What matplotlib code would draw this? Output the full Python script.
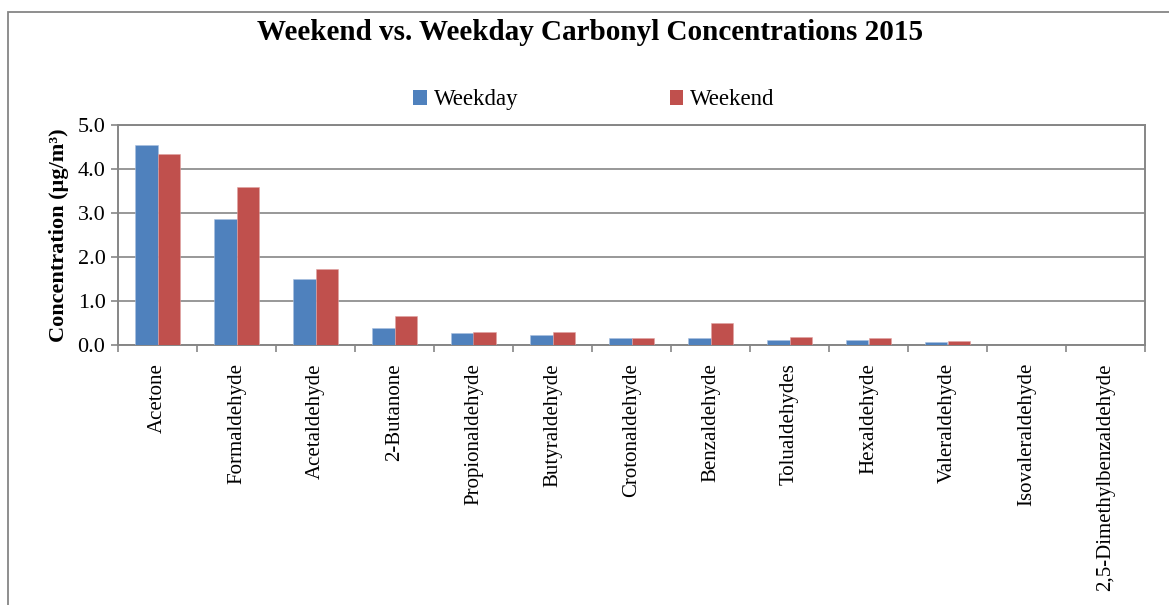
import matplotlib
matplotlib.use("Agg")
import matplotlib.pyplot as plt
from matplotlib.patches import Rectangle, Patch
import numpy as np

plt.rcParams["font.family"] = ["Liberation Serif", "DejaVu Serif"]

# data
compounds = ["Acetone", "Formaldehyde", "Acetaldehyde", "2-Butanone",
             "Propionaldehyde", "Butyraldehyde", "Crotonaldehyde",
             "Benzaldehyde", "Tolualdehydes", "Hexaldehyde",
             "Valeraldehyde", "Isovaleraldehyde", "2,5-Dimethylbenzaldehyde"]
weekday = [4.55, 2.86, 1.51, 0.39, 0.27, 0.22, 0.16, 0.16, 0.11, 0.12, 0.06, 0.0, 0.0]
weekend = [4.33, 3.58, 1.72, 0.65, 0.29, 0.29, 0.16, 0.49, 0.18, 0.16, 0.09, 0.0, 0.0]

blue = "#4F81BD"
red = "#C0504D"
grey = "#868686"

W, H = 1169, 605
fig = plt.figure(figsize=(W / 100, H / 100), dpi=100)

# outer chart frame (only top & left show in the crop)
fig.patches.append(Rectangle((8 / W, -0.1), 1.2, 1 - 12 / H + 0.1,
                             transform=fig.transFigure, fill=False,
                             edgecolor=grey, lw=1.3, clip_on=False))

ax = fig.add_axes([118 / W, 1 - 345 / H, (1145 - 118) / W, (345 - 125) / H])

x = np.arange(len(compounds))
bw = 0.28
ax.bar(x - bw / 2, weekday, bw, color=blue, edgecolor="#A9C0E0", lw=0.4, zorder=3)
ax.bar(x + bw / 2, weekend, bw, color=red, edgecolor="#E0A3A2", lw=0.4, zorder=3)

ax.set_xlim(-0.5, len(compounds) - 0.5)
ax.set_ylim(0, 5)
ax.set_yticks(np.arange(0, 5.01, 1.0))
ax.set_yticklabels(["%.1f" % v for v in np.arange(0, 5.01, 1.0)], fontsize=16)
ax.yaxis.grid(True, color=grey, lw=1.2, zorder=0)

ax.set_xticks(x)
ax.set_xticklabels(compounds, rotation=90, fontsize=15, va="top")
ax.tick_params(axis="x", which="major", length=0, pad=13)
ax.set_xticks(np.arange(-0.5, len(compounds)), minor=True)
ax.tick_params(axis="x", which="minor", length=5, width=1.2, color=grey)
ax.tick_params(axis="y", length=5, width=1.2, color=grey, pad=4)

for s in ax.spines.values():
    s.set_color(grey)
    s.set_linewidth(1.4)

ax.set_ylabel("Concentration (µg/m³)", fontsize=16, fontweight="bold", labelpad=6)

fig.text(0.505, 1 - 32 / H, "Weekend vs. Weekday Carbonyl Concentrations 2015",
         ha="center", va="center", fontsize=21, fontweight="bold")

handles = [Patch(facecolor=blue), Patch(facecolor=red)]
fig.legend(handles, ["Weekday", "Weekend"], loc="center",
           bbox_to_anchor=(0.508, 1 - 100 / H), ncol=2, frameon=False,
           fontsize=16.5, handlelength=0.6, handleheight=0.6,
           handletextpad=0.3, columnspacing=6.6)

fig.savefig("out.png", dpi=100)
